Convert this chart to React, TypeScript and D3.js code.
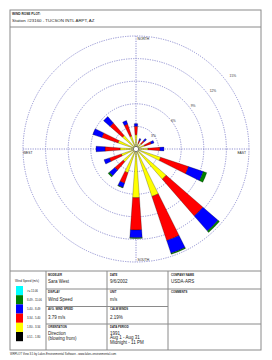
import React from 'react';
import * as d3 from 'd3';

const directions = ['N','NNE','NE','ENE','E','ESE','SE','SSE','S','SSW','SW','WSW','W','WNW','NW','NNW'];
const speedBins = ['0.51 - 1.80','1.80 - 3.34','3.34 - 5.40','5.40 - 8.49','8.49 - 11.06','>= 11.06'];
const binColors = ['#000000','#ffff00','#ff0000','#0000ff','#008000','#00ffff'];
// percent frequency per direction for each speed class
const bin1 = [0.3,0.3,0.3,0.3,0.3,0.3,0.3,0.3,0.3,0.3,0.3,0.3,0.3,0.3,0.3,0.3];
const bin2 = [1.60,0.50,0.63,0.90,1.29,3.15,5.01,6.34,6.17,3.02,1.96,1.75,1.82,2.22,2.09,1.52];
const bin3 = [1.12,0.40,0.53,0.93,1.59,3.90,6.47,6.18,4.29,1.46,1.46,1.67,1.99,2.26,2.18,1.67];
const bin4 = [0.35,0.27,0.40,0.40,0.53,2.07,2.66,1.79,1.02,0.60,0.98,0.76,1.20,1.27,1.14,0.49];
const bin5 = [0,0,0,0,0,0.48,0.24,0.13,0.11,0.07,0.21,0,0,0,0,0];
const bin6 = [0,0,0,0,0,0,0,0,0,0,0,0,0,0,0,0];
const ringPcts = [3,6,9,12,15];
const ringLabels = ['3%','6%','9%','12%','15%'];

const W = 272, H = 360;
const cx = 136, cy = 149, R = 113;
const FONT = 'Liberation Sans, Arial, sans-serif';

export default function App() {
  const bins = [bin1, bin2, bin3, bin4, bin5, bin6];
  const r = d3.scaleLinear().domain([0, 15]).range([0, R]);
  const step = (2 * Math.PI) / directions.length;
  const half = (4 * Math.PI) / 180;
  const arc = d3.arc<any>();
  const petals: any[] = [];
  directions.forEach((d, i) => {
    let acc = 0;
    bins.forEach((b, k) => {
      const v = b[i];
      if (v <= 0) return;
      const a = i * step;
      const path = arc({ innerRadius: r(acc), outerRadius: r(acc + v), startAngle: a - half, endAngle: a + half });
      petals.push(<path key={d + k} d={path as string} fill={binColors[k]} stroke="#000" strokeWidth={0.25} />);
      acc += v;
    });
  });
  const labAng = (53 * Math.PI) / 180;
  const grid = '#8585cc';
  const tl = (x: number, y: number, t: string, size = 3, bold = false, extra: any = {}) => (
    <text x={x} y={y} fontSize={size} fontFamily={FONT} fontWeight={bold ? 'bold' : 'normal'} fill="#222" {...extra}>{t}</text>
  );
  const boxY = [286, 295.2, 304.4, 313.6, 322.8, 332];
  return (
    <svg width={W} height={H} style={{ position: 'absolute', left: 0, top: 0, background: '#fff' }}>
      <rect x={0} y={0} width={W} height={H} fill="#fff" />
      {/* frame */}
      <rect x={10} y={10} width={251} height={340} fill="none" stroke="#8a8a8a" strokeWidth={1} />
      <line x1={10} x2={261} y1={27} y2={27} stroke="#8a8a8a" />
      {tl(12, 15, 'WIND ROSE PLOT:', 3.2, true)}
      {tl(12, 21.5, 'Station #23160 - TUCSON INTL ARPT, AZ', 4.4)}
      {/* grid */}
      {ringPcts.map((p) => (
        <circle key={p} cx={cx} cy={cy} r={r(p)} fill="none" stroke={grid} strokeWidth={0.9} strokeDasharray="1.2,1.2" />
      ))}
      <line x1={cx} x2={cx} y1={cy - R} y2={cy + R} stroke={grid} strokeWidth={0.9} strokeDasharray="1.2,1.2" />
      <line x1={cx - R} x2={cx + R} y1={cy} y2={cy} stroke={grid} strokeWidth={0.9} strokeDasharray="1.2,1.2" />
      {ringLabels.map((t, i) => {
        const rr = r(ringPcts[i]) * 1.1 - 3;
        return (
          <text key={t} x={cx + rr * Math.sin(labAng)} y={cy - rr * Math.cos(labAng) + 1.2} fontSize={3.3} fontFamily={FONT} textAnchor="middle" fill="#333">{t}</text>
        );
      })}
      {tl(137.5, 39.5, 'NORTH', 3.3)}
      {tl(137.5, 260.5, 'SOUTH', 3.3)}
      {tl(23, 154, 'WEST', 3.3)}
      {tl(246, 154, 'EAST', 3.3, false, { textAnchor: 'end' })}
      <g transform={`translate(${cx},${cy})`}>{petals}</g>
      <circle cx={cx} cy={cy} r={2.6} fill="#fff" stroke="#000" strokeWidth={0.4} />
      {/* table */}
      <line x1={10} x2={261} y1={271} y2={271} stroke="#8a8a8a" />
      <line x1={46} x2={46} y1={271} y2={350} stroke="#8a8a8a" />
      <line x1={107} x2={107} y1={271} y2={350} stroke="#8a8a8a" />
      <line x1={168} x2={168} y1={271} y2={350} stroke="#8a8a8a" />
      <line x1={46} x2={261} y1={289} y2={289} stroke="#8a8a8a" />
      <line x1={46} x2={168} y1={306.5} y2={306.5} stroke="#8a8a8a" />
      <line x1={46} x2={261} y1={324} y2={324} stroke="#8a8a8a" />
      {tl(15, 281.5, 'Wind Speed (m/s)', 3)}
      {speedBins.map((b, i) => {
        const k = speedBins.length - 1 - i;
        return (
          <g key={b}>
            <rect x={16} y={boxY[i]} width={7} height={9.2} fill={binColors[k]} />
            {tl(27, boxY[i] + 5.6, speedBins[k], 2.8)}
          </g>
        );
      })}
      {tl(48, 275.5, 'MODELER', 2.8, true)}
      {tl(48, 283, 'Sara West', 4.5)}
      {tl(48, 292.5, 'DISPLAY', 2.8, true)}
      {tl(48, 301, 'Wind Speed', 4.5)}
      {tl(48, 310, 'AVG. WIND SPEED', 2.8, true)}
      {tl(48, 318.5, '3.79 m/s', 4.5)}
      {tl(48, 327.5, 'ORIENTATION', 2.8, true)}
      {tl(48, 334.5, 'Direction', 4.5)}
      {tl(48, 339.5, '(blowing from)', 4.5)}
      {tl(110, 275.5, 'DATE', 2.8, true)}
      {tl(110, 283, '9/6/2002', 4.5)}
      {tl(110, 292.5, 'UNIT', 2.8, true)}
      {tl(110, 301, 'm/s', 4.5)}
      {tl(110, 310, 'CALM WINDS', 2.8, true)}
      {tl(110, 318.5, '2.19%', 4.5)}
      {tl(110, 327.5, 'DATA PERIOD', 2.8, true)}
      {tl(110, 334.5, '1991', 4.5)}
      {tl(110, 339, 'Aug 1 - Aug 31', 4.5)}
      {tl(110, 343.5, 'Midnight - 11 PM', 4.5)}
      {tl(171, 275.5, 'COMPANY NAME', 2.8, true)}
      {tl(171, 283, 'USDA-ARS', 4.5)}
      {tl(171, 292.5, 'COMMENTS', 2.8, true)}
      {tl(10, 354.5, 'WRPLOT View 3.5 by Lakes Environmental Software - www.lakes-environmental.com', 2.8)}
    </svg>
  );
}
